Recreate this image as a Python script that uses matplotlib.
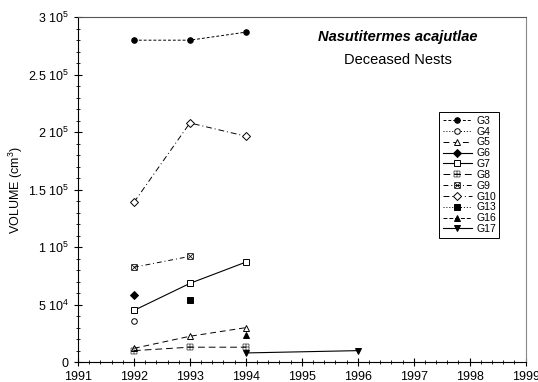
import matplotlib
matplotlib.use('Agg')
import matplotlib.pyplot as plt
from matplotlib.ticker import FixedLocator, MultipleLocator

plt.rcParams['font.family'] = ['Liberation Sans', 'DejaVu Sans']
plt.rcParams['mathtext.fontset'] = 'custom'
plt.rcParams['mathtext.rm'] = 'Liberation Sans'

# Data (volume in cm^3 per nest group)
names = ['G3', 'G4', 'G5', 'G6', 'G7', 'G8', 'G9', 'G10', 'G13', 'G16', 'G17']
years = {
    'G3': [1992, 1993, 1994],
    'G4': [1992],
    'G5': [1992, 1993, 1994],
    'G6': [1992],
    'G7': [1992, 1993, 1994],
    'G8': [1992, 1993, 1994],
    'G9': [1992, 1993],
    'G10': [1992, 1993, 1994],
    'G13': [1993],
    'G16': [1994],
    'G17': [1994, 1996],
}
volumes = {
    'G3': [280000, 280000, 287000],
    'G4': [35500],
    'G5': [12000, 22500, 30000],
    'G6': [58000],
    'G7': [45000, 68500, 87000],
    'G8': [10000, 13000, 13000],
    'G9': [82500, 92000],
    'G10': [139000, 208000, 196500],
    'G13': [54000],
    'G16': [24000],
    'G17': [8000, 10000],
}
ytick_vals = [0, 50000, 100000, 150000, 200000, 250000, 300000]
ytick_labels = ['0', r'5 10$^4$', r'1 10$^5$', r'1.5 10$^5$', r'2 10$^5$',
                r'2.5 10$^5$', r'3 10$^5$']

styles = {
    'G3': dict(marker='o', mfc='black', ls=(0, (3, 2)), lw=0.7),
    'G4': dict(marker='o', mfc='white', ls=(0, (1, 2)), lw=0.7),
    'G5': dict(marker='^', mfc='white', ls=(0, (6, 4)), lw=0.7),
    'G6': dict(marker='D', mfc='black', ls='-', lw=0.8, ms=4),
    'G7': dict(marker='s', mfc='white', ls='-', lw=0.8),
    'G8': dict(marker='$\u229e$', mfc='black', ls=(0, (7, 4)), lw=0.7, ms=4.5, mew=0.2),
    'G9': dict(marker='$\u22a0$', mfc='black', ls=(0, (5, 3, 1, 3)), lw=0.7, ms=4.5, mew=0.2),
    'G10': dict(marker='D', mfc='white', ls=(0, (6, 3, 1, 3)), lw=0.7),
    'G13': dict(marker='s', mfc='black', ls=(0, (1, 2)), lw=0.7),
    'G16': dict(marker='^', mfc='black', ls=(0, (4, 2)), lw=0.7),
    'G17': dict(marker='v', mfc='black', ls='-', lw=0.8),
}

fig = plt.figure(figsize=(5.38, 3.82), dpi=100)
ax = fig.add_axes([0.145, 0.052, 0.832, 0.903])

for n in names:
    st = dict(ms=4, mec='black', mew=0.7, color='black')
    st.update(styles[n])
    ax.plot(years[n], volumes[n], label=n, **st)

ax.set_xlim(1991, 1999)
ax.set_ylim(0, 300000)
ax.xaxis.set_major_locator(MultipleLocator(1))
ax.xaxis.set_minor_locator(MultipleLocator(0.2))
ax.yaxis.set_major_locator(FixedLocator(ytick_vals))
ax.set_yticklabels(ytick_labels)
ax.yaxis.set_minor_locator(MultipleLocator(10000))
ax.tick_params(axis='both', which='major', direction='inout', length=6, width=0.8, labelsize=9)
ax.tick_params(axis='both', which='minor', direction='inout', length=3, width=0.6)
ax.tick_params(top=False, right=False, which='both')
for s in ax.spines.values():
    s.set_linewidth(0.8)
ax.spines['top'].set_color('#555555')
ax.spines['right'].set_color('#888888')

ax.set_ylabel('VOLUME (cm$^3$)', fontsize=9, labelpad=2)

ax.text(0.715, 0.93, 'Nasutitermes acajutlae', transform=ax.transAxes,
        ha='center', fontsize=10.5, fontstyle='italic', fontweight='bold')
ax.text(0.715, 0.865, 'Deceased Nests', transform=ax.transAxes,
        ha='center', fontsize=10.5)

leg = ax.legend(loc='upper left', bbox_to_anchor=(0.795, 0.74), fontsize=7.5,
                handlelength=2.8, handletextpad=0.4, labelspacing=0.08,
                borderpad=0.35, fancybox=False, framealpha=1,
                edgecolor='black')
leg.get_frame().set_linewidth(0.7)

fig.savefig('out.png', dpi=100)
